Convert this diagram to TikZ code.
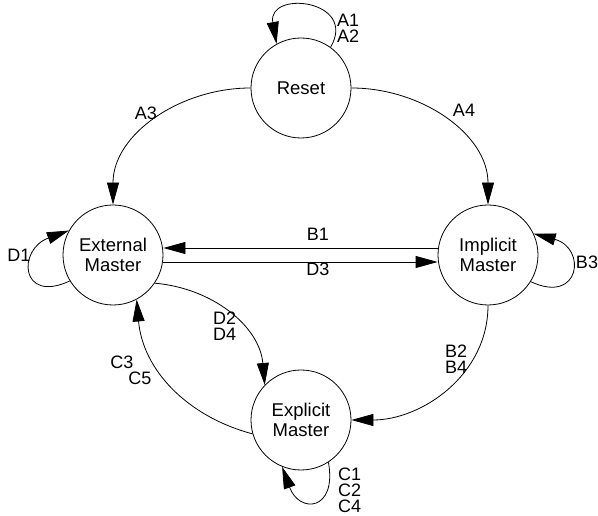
\documentclass[tikz,border=0pt]{standalone}
\usepackage{fontspec}
\setmainfont{Liberation Sans}
\usetikzlibrary{arrows.meta, positioning}

\begin{document}
\begin{tikzpicture}[
  x=1pt, y=1pt,
  state/.style={
    circle, draw, line width=0.8pt,
    minimum size=100pt, inner sep=0pt,
    align=center, font=\fontsize{18.5}{20}\selectfont
  },
  lbl/.style={
    inner sep=0pt, align=left,
    font=\fontsize{18}{16}\selectfont
  },
  arr/.style={-{Triangle[length=22pt, width=12pt]}, line width=0.8pt}
]
  \useasboundingbox (0,0) rectangle (598,516);

  \node[state] (reset) at (301,428) {Reset};
  \node[state] (ext)   at (113,261) {External\\Master};
  \node[state] (imp)   at (488,261) {Implicit\\Master};
  \node[state] (expl)  at (301,96)  {Explicit\\Master};

  % transitions between states
  \draw[arr] (reset.west) to[out=180, in=90] (ext.north);
  \draw[arr] (reset.east) to[out=0, in=90] (imp.north);
  \draw[arr] ([yshift=7pt]imp.west) -- ([yshift=7pt]ext.east);
  \draw[arr] ([yshift=-7pt]ext.east) -- ([yshift=-7pt]imp.west);
  \draw[arr] (ext.-34) to[out=-5, in=95] (expl.136);
  \draw[arr] (expl.196) to[out=165, in=-85] (ext.-62);
  \draw[arr] (imp.south) to[out=-90, in=0] (expl.east);

  % self loops
  \draw[arr] (reset.54) .. controls +(60:55) and +(100:55) .. (reset.119);
  \draw[arr] (ext.211) .. controls +(205:55) and +(200:55) .. (ext.151);
  \draw[arr] (imp.-32) .. controls +(-25:55) and +(-15:55) .. (imp.25);
  \draw[arr] (expl.-57) .. controls +(-80:50) and +(-70:50) .. (expl.-112);

  \node[lbl, anchor=west] (la12)  at (337,488) {A1\\A2};
  \node[lbl] (la3)  at (146,403) {A3};
  \node[lbl] (la4)  at (464,406) {A4};
  \node[lbl] (lb1)  at (318,282) {B1};
  \node[lbl] (ld3)  at (318,247) {D3};
  \node[lbl, anchor=west] (ld24) at (213,190) {D2\\D4};
  \node[lbl] (lc3)  at (122,154) {C3};
  \node[lbl] (lc5)  at (140,138) {C5};
  \node[lbl, anchor=west] (lb24) at (445,157) {B2\\B4};
  \node[lbl, anchor=west] (lc124) at (338,26) {C1\\C2\\C4};
  \node[lbl] (ld1)  at (19,261)  {D1};
  \node[lbl] (lb3)  at (587,254) {B3};
\end{tikzpicture}
\end{document}
